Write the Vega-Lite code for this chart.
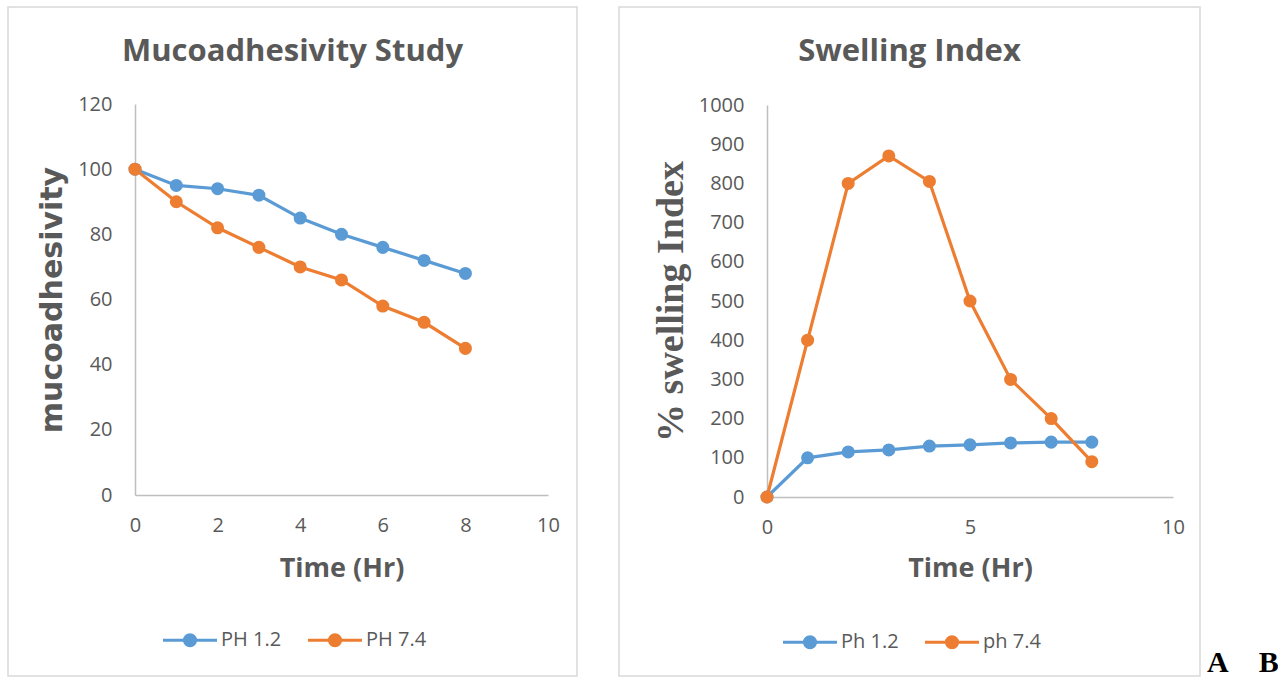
{
  "$schema": "https://vega.github.io/schema/vega-lite/v6.json",
  "background": "white",
  "padding": {"left": 7, "top": 6, "right": 0, "bottom": 0},
  "datasets": {
    "muco": [
      {"t": 0, "series": "PH 1.2", "v": 100}, {"t": 1, "series": "PH 1.2", "v": 95}, {"t": 2, "series": "PH 1.2", "v": 94},
      {"t": 3, "series": "PH 1.2", "v": 92}, {"t": 4, "series": "PH 1.2", "v": 85}, {"t": 5, "series": "PH 1.2", "v": 80},
      {"t": 6, "series": "PH 1.2", "v": 76}, {"t": 7, "series": "PH 1.2", "v": 72}, {"t": 8, "series": "PH 1.2", "v": 68},
      {"t": 0, "series": "PH 7.4", "v": 100}, {"t": 1, "series": "PH 7.4", "v": 90}, {"t": 2, "series": "PH 7.4", "v": 82},
      {"t": 3, "series": "PH 7.4", "v": 76}, {"t": 4, "series": "PH 7.4", "v": 70}, {"t": 5, "series": "PH 7.4", "v": 66},
      {"t": 6, "series": "PH 7.4", "v": 58}, {"t": 7, "series": "PH 7.4", "v": 53}, {"t": 8, "series": "PH 7.4", "v": 45}
    ],
    "swell": [
      {"t": 0, "series": "Ph 1.2", "v": 0}, {"t": 1, "series": "Ph 1.2", "v": 100}, {"t": 2, "series": "Ph 1.2", "v": 115},
      {"t": 3, "series": "Ph 1.2", "v": 120}, {"t": 4, "series": "Ph 1.2", "v": 130}, {"t": 5, "series": "Ph 1.2", "v": 133},
      {"t": 6, "series": "Ph 1.2", "v": 138}, {"t": 7, "series": "Ph 1.2", "v": 140}, {"t": 8, "series": "Ph 1.2", "v": 140},
      {"t": 0, "series": "ph 7.4", "v": 0}, {"t": 1, "series": "ph 7.4", "v": 400}, {"t": 2, "series": "ph 7.4", "v": 800},
      {"t": 3, "series": "ph 7.4", "v": 870}, {"t": 4, "series": "ph 7.4", "v": 805}, {"t": 5, "series": "ph 7.4", "v": 500},
      {"t": 6, "series": "ph 7.4", "v": 300}, {"t": 7, "series": "ph 7.4", "v": 200}, {"t": 8, "series": "ph 7.4", "v": 90}
    ]
  },
  "title": {
    "text": "A\u00a0\u00a0\u00a0\u00a0B",
    "orient": "bottom",
    "anchor": "end",
    "font": "Liberation Serif",
    "fontSize": 30,
    "fontWeight": "bold",
    "color": "black",
    "offset": -29,
    "dx": 78
  },
  "spacing": 40,
  "resolve": {"scale": {"color": "independent"}, "legend": {"color": "independent"}},
  "hconcat": [
    {
      "width": 569,
      "height": 669,
      "view": {"stroke": "#d9d9d9", "strokeWidth": 1.5},
      "title": {"text": "Mucoadhesivity Study", "offset": -61, "anchor": "middle", "font": "Open Sans", "fontSize": 31, "fontWeight": "bold", "color": "#595959"},
      "data": {"name": "muco"},
      "encoding": {
        "x": {
          "field": "t", "type": "quantitative",
          "scale": {"domain": [0, 10], "range": [127, 540], "nice": false},
          "axis": {"offset": -181, "values": [0, 2, 4, 6, 8, 10], "labelPadding": 20, "title": "Time (Hr)", "titlePadding": 20, "titleFontSize": 27}
        },
        "y": {
          "field": "v", "type": "quantitative",
          "scale": {"domain": [0, 120], "range": [488, 97], "nice": false},
          "axis": {"offset": -127, "values": [0, 20, 40, 60, 80, 100, 120], "labelPadding": 23, "title": "mucoadhesivity", "titlePadding": 10, "titleFont": "DejaVu Sans", "titleFontSize": 30}
        },
        "color": {
          "field": "series", "type": "nominal",
          "scale": {"domain": ["PH 1.2", "PH 7.4"], "range": ["#5B9BD5", "#ED7D31"]},
          "legend": {"orient": "none", "legendX": 167, "legendY": 618, "direction": "horizontal", "title": null}
        }
      },
      "layer": [
        {"mark": {"type": "line", "strokeWidth": 3.2}},
        {"mark": {"type": "circle", "size": 170, "opacity": 1}, "encoding": {"color": {"field": "series", "type": "nominal", "legend": null}}}
      ]
    },
    {
      "width": 581,
      "height": 669,
      "view": {"stroke": "#d9d9d9", "strokeWidth": 1.5},
      "title": {"text": "Swelling Index", "offset": -61, "anchor": "middle", "font": "Open Sans", "fontSize": 31, "fontWeight": "bold", "color": "#595959"},
      "data": {"name": "swell"},
      "encoding": {
        "x": {
          "field": "t", "type": "quantitative",
          "scale": {"domain": [0, 10], "range": [148, 554], "nice": false},
          "axis": {"offset": -179, "values": [0, 5, 10], "labelPadding": 20, "title": "Time (Hr)", "titlePadding": 18, "titleFontSize": 27}
        },
        "y": {
          "field": "v", "type": "quantitative",
          "scale": {"domain": [0, 1000], "range": [490, 98], "nice": false},
          "axis": {"offset": -148, "format": "d", "values": [0, 100, 200, 300, 400, 500, 600, 700, 800, 900, 1000], "labelPadding": 23, "title": "% swelling Index", "titlePadding": 8, "titleFont": "Liberation Serif", "titleFontSize": 38}
        },
        "color": {
          "field": "series", "type": "nominal",
          "scale": {"domain": ["Ph 1.2", "ph 7.4"], "range": ["#5B9BD5", "#ED7D31"]},
          "legend": {"orient": "none", "legendX": 176, "legendY": 620, "direction": "horizontal", "title": null}
        }
      },
      "layer": [
        {"mark": {"type": "line", "strokeWidth": 3.2}},
        {"mark": {"type": "circle", "size": 170, "opacity": 1}, "encoding": {"color": {"field": "series", "type": "nominal", "legend": null}}}
      ]
    }
  ],
  "config": {
    "axis": {
      "domainColor": "#bfbfbf", "domainWidth": 1.5, "ticks": false, "tickSize": 0, "grid": false,
      "labelFont": "Open Sans", "labelFontSize": 20, "labelColor": "#595959",
      "labelFlush": false, "labelOverlap": false,
      "titleFont": "Open Sans", "titleFontWeight": "bold", "titleColor": "#595959"
    },
    "legend": {
      "padding": 0,
      "symbolType": "M-2,0L2,0M-0.11,0A0.11,0.11 0 1,0 0.11,0A0.11,0.11 0 1,0 -0.11,0M-0.26,0A0.26,0.26 0 1,0 0.26,0A0.26,0.26 0 1,0 -0.26,0M-0.41,0A0.41,0.41 0 1,0 0.41,0A0.41,0.41 0 1,0 -0.41,0",
      "symbolSize": 729,
      "symbolStrokeWidth": 3,
      "labelOffset": 16,
      "columnPadding": 20,
      "labelFont": "Open Sans",
      "labelFontSize": 20,
      "labelColor": "#595959"
    }
  }
}
